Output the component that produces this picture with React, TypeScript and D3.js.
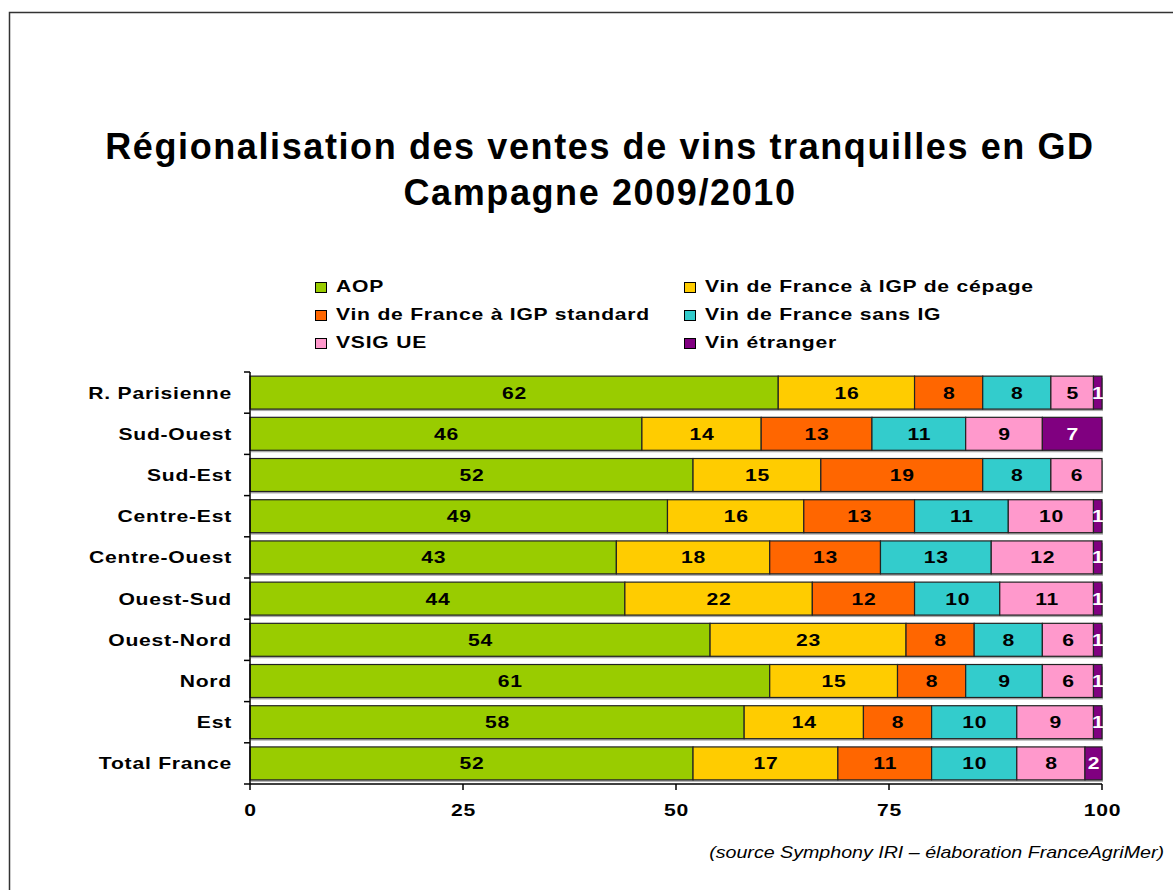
import React, { useEffect, useRef } from 'react';
import * as d3 from 'd3';

const categories = [
  'R. Parisienne', 'Sud-Ouest', 'Sud-Est', 'Centre-Est', 'Centre-Ouest',
  'Ouest-Sud', 'Ouest-Nord', 'Nord', 'Est', 'Total France',
];
const seriesNames = [
  'AOP', 'Vin de France à IGP de cépage', 'Vin de France à IGP standard',
  'Vin de France sans IG', 'VSIG UE', 'Vin étranger',
];
const aop = [62, 46, 52, 49, 43, 44, 54, 61, 58, 52];
const igpCepage = [16, 14, 15, 16, 18, 22, 23, 15, 14, 17];
const igpStandard = [8, 13, 19, 13, 13, 12, 8, 8, 8, 11];
const sansIG = [8, 11, 8, 11, 13, 10, 8, 9, 10, 10];
const vsigUE = [5, 9, 6, 10, 12, 11, 6, 6, 9, 8];
const vinEtranger = [1, 7, 0, 1, 1, 1, 1, 1, 1, 2];
const xTicks = [0, 25, 50, 75, 100];

const colors = ['#99CC00', '#FFCC00', '#FF6600', '#33CCCC', '#FF99CC', '#800080'];
const textColors = ['#000', '#000', '#000', '#000', '#000', '#fff'];

const font = 'Arial, "Liberation Sans", sans-serif';

// the original text is a horizontally widened Arial bold
function wideText(parent, x, y, str, anchor = 'start', fill = '#000', sx = 1.28) {
  parent.append('g')
    .attr('transform', `translate(${x},${y}) scale(${sx},1)`)
    .append('text')
    .attr('text-anchor', anchor)
    .attr('font-family', font).attr('font-weight', 'bold')
    .attr('font-size', 16.5).attr('letter-spacing', 0.6)
    .attr('fill', fill)
    .text(str);
}

function App() {
  const ref = useRef(null);

  useEffect(() => {
    document.body.style.margin = '0';
    const svg = d3.select(ref.current);
    svg.selectAll('*').remove();

    const width = 1173;
    const height = 890;

    const values = [aop, igpCepage, igpStandard, sansIG, vsigUE, vinEtranger];
    const rows = categories.map((c, i) => {
      const r = { cat: c };
      seriesNames.forEach((s, j) => { r[s] = values[j][i]; });
      return r;
    });
    const stacked = d3.stack().keys(seriesNames)(rows);

    const x = d3.scaleLinear().domain([0, 100]).range([250, 1102]);
    const y = d3.scaleBand().domain(categories).range([372, 784])
      .paddingInner(0.2).paddingOuter(0.1);

    // outer frame
    svg.append('rect')
      .attr('x', 9.5).attr('y', 12.5)
      .attr('width', width).attr('height', height)
      .attr('fill', 'none').attr('stroke', '#333').attr('stroke-width', 1.5);

    // title
    const title = svg.append('text')
      .attr('text-anchor', 'middle')
      .attr('font-family', font).attr('font-weight', 'bold')
      .attr('font-size', 36).attr('letter-spacing', 1.6).attr('fill', '#000');
    title.append('tspan').attr('x', 600).attr('y', 159)
      .text('Régionalisation des ventes de vins tranquilles en GD');
    title.append('tspan').attr('x', 600).attr('y', 205)
      .text('Campagne 2009/2010');

    // legend
    const legend = svg.append('g');
    seriesNames.forEach((s, i) => {
      const lx = i % 2 === 0 ? 315 : 684;
      const ly = 292 + Math.floor(i / 2) * 28;
      legend.append('rect')
        .attr('x', lx + 0.5).attr('y', ly - 9.5).attr('width', 11).attr('height', 10)
        .attr('fill', colors[i]).attr('stroke', '#000').attr('stroke-width', 1);
      wideText(legend, lx + 21, ly, s);
    });

    // light shadow under each bar
    svg.append('g').selectAll('rect')
      .data(categories).enter().append('rect')
      .attr('x', x(0) + 1).attr('y', (d) => y(d) + 2)
      .attr('width', x(100) - x(0)).attr('height', y.bandwidth())
      .attr('fill', '#aaa');

    // bars
    const layer = svg.append('g').selectAll('g')
      .data(stacked).enter().append('g')
      .attr('fill', (d, i) => colors[i]);

    layer.selectAll('rect')
      .data((d) => d.filter((p) => p[1] - p[0] > 0))
      .enter().append('rect')
      .attr('x', (d) => x(d[0]))
      .attr('y', (d) => y(d.data.cat))
      .attr('width', (d) => x(d[1]) - x(d[0]))
      .attr('height', y.bandwidth())
      .attr('stroke', '#222').attr('stroke-width', 1.2);

    const labels = svg.append('g');
    stacked.forEach((s, si) => {
      s.filter((p) => p[1] - p[0] > 0).forEach((d) => {
        wideText(labels, (x(d[0]) + x(d[1])) / 2 + 0.5, y(d.data.cat) + y.bandwidth() / 2 + 6,
          d[1] - d[0], 'middle', textColors[si]);
      });
    });

    // y axis
    const yAxis = svg.append('g');
    yAxis.append('line')
      .attr('x1', 250).attr('x2', 250).attr('y1', 372).attr('y2', 784)
      .attr('stroke', '#000').attr('stroke-width', 1.5);
    d3.range(categories.length + 1).forEach((i) => {
      const ty = 372 + i * y.step();
      yAxis.append('line')
        .attr('x1', 244).attr('x2', 250).attr('y1', ty).attr('y2', ty)
        .attr('stroke', '#000').attr('stroke-width', 1.5);
    });
    categories.forEach((c) => {
      wideText(yAxis, 232, y(c) + y.bandwidth() / 2 + 6, c, 'end');
    });

    // x axis
    const xAxis = svg.append('g');
    xAxis.append('line')
      .attr('x1', 250).attr('x2', 1102).attr('y1', 784).attr('y2', 784)
      .attr('stroke', '#000').attr('stroke-width', 1.5);
    xTicks.forEach((t) => {
      xAxis.append('line')
        .attr('x1', x(t)).attr('x2', x(t)).attr('y1', 784).attr('y2', 790)
        .attr('stroke', '#000').attr('stroke-width', 1.5);
      wideText(xAxis, x(t) + 0.5, 816, t, 'middle');
    });

    // source
    svg.append('g')
      .attr('transform', 'translate(1164,858) scale(1.19,1)')
      .append('text')
      .attr('text-anchor', 'end')
      .attr('font-family', font).attr('font-style', 'italic')
      .attr('font-size', 16.5)
      .text('(source Symphony IRI – élaboration FranceAgriMer)');
  }, []);

  return <svg ref={ref} width={1173} height={890} style={{ display: 'block', background: '#fff' }} />;
}

export default App;
